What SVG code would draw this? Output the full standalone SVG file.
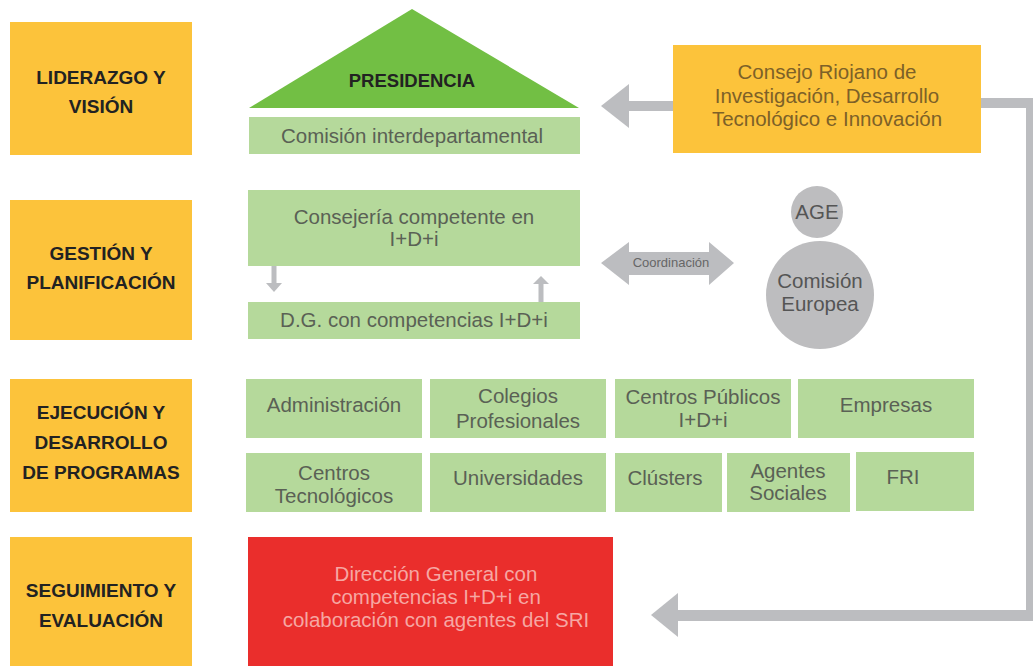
<svg xmlns="http://www.w3.org/2000/svg" width="1033" height="666" viewBox="0 0 1033 666">
<style>
.lvl{fill:#fcc33b}
.lvlt{font-family:"Liberation Sans",Arial,sans-serif;font-weight:bold;font-size:19px;fill:#222;text-anchor:middle}
.gb{fill:#b5d99b}
.t{font-family:"Liberation Sans",Arial,sans-serif;font-size:20.5px;fill:#5a6155;text-anchor:middle}
.ct{font-family:"Liberation Sans",Arial,sans-serif;font-size:20.5px;fill:#7d6128;text-anchor:middle}
.rt{font-family:"Liberation Sans",Arial,sans-serif;font-size:20.5px;fill:#f6a7a3;text-anchor:middle}
.gt{font-family:"Liberation Sans",Arial,sans-serif;font-size:20.5px;fill:#555;text-anchor:middle}
.conn{fill:#bcbdc0}
</style>
<rect width="1033" height="666" fill="#fff"/>

<g id="lvl-liderazgo"><rect class="lvl" x="10" y="22" width="182" height="133"/>
<text class="lvlt" x="101" y="84">LIDERAZGO Y</text><text class="lvlt" x="101" y="113">VISIÓN</text></g>
<g id="lvl-gestion"><rect class="lvl" x="10" y="200" width="182" height="140"/>
<text class="lvlt" x="101" y="260">GESTIÓN Y</text><text class="lvlt" x="101" y="289">PLANIFICACIÓN</text></g>
<g id="lvl-ejecucion"><rect class="lvl" x="10" y="379" width="182" height="133"/>
<text class="lvlt" x="101" y="419">EJECUCIÓN Y</text><text class="lvlt" x="101" y="449">DESARROLLO</text><text class="lvlt" x="101" y="479">DE PROGRAMAS</text></g>
<g id="lvl-seguimiento"><rect class="lvl" x="10" y="537" width="182" height="129"/>
<text class="lvlt" x="101" y="597">SEGUIMIENTO Y</text><text class="lvlt" x="101" y="627">EVALUACIÓN</text></g>

<g id="connectors">
<rect class="conn" x="628" y="101" width="46" height="10"/>
<polygon class="conn" points="601,106 629,84 629,128"/>
<polygon class="conn" points="981,98 1036,98 1036,621 677,621 677,610 1026,610 1026,108 981,108"/>
<polygon class="conn" points="651,615 678,593 678,637"/>
<rect class="conn" x="271.5" y="266" width="5" height="18"/>
<polygon class="conn" points="266,283 282,283 274,292"/>
<rect class="conn" x="538.5" y="283" width="5" height="19"/>
<polygon class="conn" points="533,284 549,284 541,276"/>
<polygon id="coordinacion" class="conn" points="601,263 629,242 629,252 709,252 709,242 734,263 709,285 709,275 629,275 629,285"/>
<text x="671" y="267" font-family="'Liberation Sans',Arial,sans-serif" font-size="13" fill="#666" text-anchor="middle">Coordinación</text>
</g>

<g id="presidencia"><polygon points="412,9 249,108 579,108" fill="#72bf44"/>
<text x="412" y="87" font-family="'Liberation Sans',Arial,sans-serif" font-weight="bold" font-size="18.5" fill="#222" text-anchor="middle">PRESIDENCIA</text></g>
<g id="comision-inter"><rect class="gb" x="249" y="117" width="331" height="37"/>
<text class="t" x="412" y="143">Comisión interdepartamental</text></g>

<g id="consejo"><rect class="lvl" x="673" y="45" width="308" height="108"/>
<text class="ct" x="827" y="79">Consejo Riojano de</text><text class="ct" x="827" y="102.5">Investigación, Desarrollo</text><text class="ct" x="827" y="126">Tecnológico e Innovación</text></g>

<g id="consejeria"><rect class="gb" x="248" y="190" width="332" height="76"/>
<text class="t" x="414" y="224">Consejería competente en</text><text class="t" x="414" y="246">I+D+i</text></g>
<g id="dg"><rect class="gb" x="248" y="302" width="332" height="37"/>
<text class="t" x="414" y="327">D.G. con competencias I+D+i</text></g>

<g id="age"><circle cx="817" cy="212" r="26" fill="#bdbdbf"/><text class="gt" x="817" y="219">AGE</text></g>
<g id="comision-europea"><circle cx="820" cy="295" r="54" fill="#bdbdbf"/>
<text class="gt" x="820" y="288">Comisión</text><text class="gt" x="820" y="311">Europea</text></g>

<g id="administracion"><rect class="gb" x="246" y="379" width="176" height="59"/><text class="t" x="334" y="412">Administración</text></g>
<g id="colegios"><rect class="gb" x="430" y="379" width="176" height="59"/><text class="t" x="518" y="403">Colegios</text><text class="t" x="518" y="428">Profesionales</text></g>
<g id="centros-publicos"><rect class="gb" x="615" y="379" width="176" height="59"/><text class="t" x="703" y="404">Centros Públicos</text><text class="t" x="703" y="427">I+D+i</text></g>
<g id="empresas"><rect class="gb" x="798" y="379" width="176" height="59"/><text class="t" x="886" y="412">Empresas</text></g>

<g id="centros-tecnologicos"><rect class="gb" x="246" y="453" width="176" height="59"/><text class="t" x="334" y="480">Centros</text><text class="t" x="334" y="503">Tecnológicos</text></g>
<g id="universidades"><rect class="gb" x="430" y="453" width="176" height="59"/><text class="t" x="518" y="485">Universidades</text></g>
<g id="clusters"><rect class="gb" x="615" y="453" width="107" height="59"/><text class="t" x="665" y="485">Clústers</text></g>
<g id="agentes-sociales"><rect class="gb" x="727" y="453" width="123" height="59"/><text class="t" x="788" y="478">Agentes</text><text class="t" x="788" y="500">Sociales</text></g>
<g id="fri"><rect class="gb" x="856" y="452" width="118" height="59"/><text class="t" x="903" y="484">FRI</text></g>

<g id="direccion-general"><rect x="248" y="537" width="365" height="129" fill="#ea2e2c"/>
<text class="rt" x="436" y="581">Dirección General con</text><text class="rt" x="436" y="604">competencias I+D+i en</text><text class="rt" x="436" y="627">colaboración con agentes del SRI</text></g>
</svg>
